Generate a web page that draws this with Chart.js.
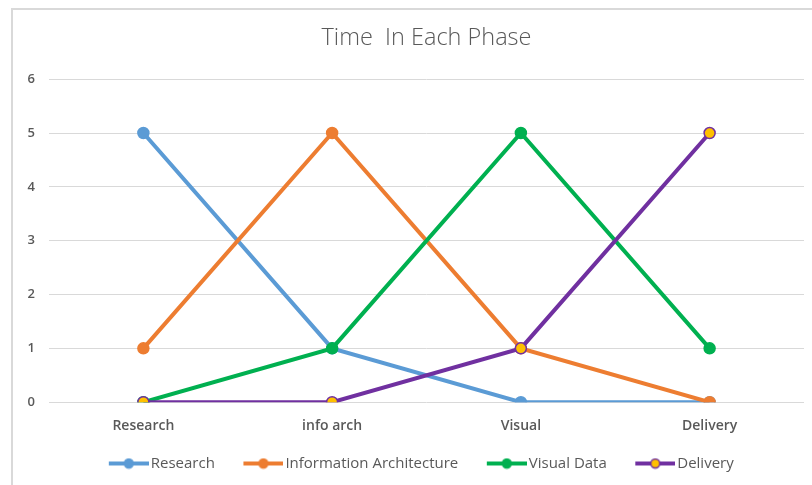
<!DOCTYPE html>
<html>
<head>
<meta charset="utf-8">
<script src="https://cdn.jsdelivr.net/npm/chart.js@4.4.1/dist/chart.umd.min.js"></script>
<style>
    html, body { margin: 0; background: #fff; overflow: hidden; }
    #wrap {
        position: absolute; left: 11px; top: 8px; width: 827px; height: 477px;
        border-top: 2px solid #d9d9d9; border-left: 2px solid #d9d9d9;
        box-sizing: border-box;
    }
</style>
</head>
<body>
<div id="wrap"><canvas id="phaseChart"></canvas></div>
<script>
// chart data
var phases = ['Research', 'info arch', 'Visual', 'Delivery'];
var seriesNames = ['Research', 'Information Architecture', 'Visual Data', 'Delivery'];
var research = [5, 1, 0, 0];
var infoArch = [1, 5, 1, 0];
var visualData = [0, 1, 5, 1];
var delivery = [0, 0, 1, 5];
var yTicks = [0, 1, 2, 3, 4, 5, 6];

var lineColors = ['#5b9bd5', '#ed7d31', '#00b050', '#7030a0'];
var pointFills = ['#5b9bd5', '#ed7d31', '#00b050', '#ffc000'];

// line+dot image for the legend, drawn at the right end so it sits close to the text
function legendIcon(color, fill) {
    var c = document.createElement('canvas');
    c.width = 67; c.height = 12;
    var ctx = c.getContext('2d');
    ctx.strokeStyle = color;
    ctx.lineWidth = 4;
    ctx.beginPath(); ctx.moveTo(27, 6); ctx.lineTo(67, 6); ctx.stroke();
    ctx.fillStyle = fill;
    ctx.lineWidth = 1.5;
    ctx.beginPath(); ctx.arc(47, 6, 4.5, 0, Math.PI * 2); ctx.fill(); ctx.stroke();
    return c;
}

function makeSet(i, values) {
    return {
        label: seriesNames[i],
        data: values,
        borderColor: lineColors[i],
        backgroundColor: pointFills[i],
        pointBackgroundColor: pointFills[i],
        pointBorderColor: lineColors[i],
        pointBorderWidth: 1.5,
        pointRadius: 5.5,
        borderWidth: 4,
        tension: 0,
        order: 4 - i
    };
}

var icons = [0, 1, 2, 3].map(function (i) { return legendIcon(lineColors[i], pointFills[i]); });

new Chart(document.getElementById('phaseChart'), {
    type: 'line',
    data: {
        labels: phases,
        datasets: [
            makeSet(0, research),
            makeSet(1, infoArch),
            makeSet(2, visualData),
            makeSet(3, delivery)
        ]
    },
    options: {
        responsive: true,
        maintainAspectRatio: false,
        animation: false,
        layout: { padding: { left: 0, right: 30, top: 0, bottom: 4 } },
        plugins: {
            title: {
                display: true,
                fullSize: false,
                text: 'Time  In Each Phase',
                color: '#595959',
                font: { family: 'Open Sans', size: 23.5, weight: '300' },
                padding: { top: 14, bottom: 27 }
            },
            legend: {
                position: 'bottom',
                labels: {
                    usePointStyle: true,
                    pointStyleWidth: 56,
                    boxHeight: 12,
                    padding: 7,
                    color: '#595959',
                    font: { family: 'Open Sans', size: 15 },
                    generateLabels: function (chart) {
                        var items = Chart.defaults.plugins.legend.labels.generateLabels(chart);
                        items.sort(function (a, b) { return a.datasetIndex - b.datasetIndex; });
                        items.forEach(function (it) { it.pointStyle = icons[it.datasetIndex]; });
                        return items;
                    }
                }
            },
            tooltip: { enabled: false }
        },
        scales: {
            x: {
                offset: true,
                grid: { display: false, drawTicks: false },
                border: { display: false },
                ticks: {
                    color: '#595959',
                    padding: 15,
                    font: { family: 'Open Sans', size: 14, weight: '600' }
                }
            },
            y: {
                min: 0,
                max: 6,
                afterFit: function (scale) { scale.width = 36; },
                afterBuildTicks: function (scale) {
                    scale.ticks = yTicks.map(function (v) { return { value: v }; });
                },
                grid: { color: '#d9d9d9', lineWidth: 1, drawTicks: false },
                border: { display: false },
                ticks: {
                    color: '#595959',
                    padding: 14,
                    font: { family: 'Open Sans', size: 13, weight: '600' }
                }
            },
            // empty right axis, only a few px so the gridlines run to the edge
            yRight: {
                position: 'right',
                display: true,
                min: 0,
                max: 6,
                afterFit: function (scale) { scale.width = 4; },
                grid: { display: false, drawTicks: false },
                border: { display: false },
                ticks: { display: false }
            }
        }
    }
});
</script>
</body>
</html>
